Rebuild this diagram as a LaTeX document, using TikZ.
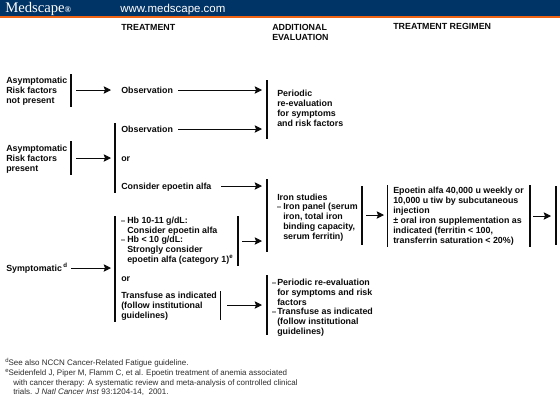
\documentclass[tikz,border=0pt]{standalone}
\usepackage{fontspec}
\setmainfont{Liberation Sans}
\newfontfamily\logofont{Liberation Serif}
\definecolor{navy}{RGB}{0,51,102}
\definecolor{bandorange}{RGB}{240,100,20}
\definecolor{ink}{RGB}{10,10,10}
\definecolor{noteink}{RGB}{45,45,45}
\tikzset{
  lab/.style={anchor=base west,inner sep=0pt,font=\fontsize{6.65pt}{7.5pt}\selectfont\bfseries,text=ink},
  note/.style={anchor=base west,inner sep=0pt,font=\fontsize{6pt}{7pt}\selectfont,text=noteink},
  barline/.style={draw=ink,line width=0.85pt},
  arrowline/.style={draw=ink,line width=0.7pt,-{Stealth[length=5.5pt,width=5.5pt,inset=1pt]}},
  tick/.style={fill=gray!70,inner sep=0pt,minimum width=2.6pt,minimum height=1.2pt}
}
\usetikzlibrary{arrows.meta}
\begin{document}
\begin{tikzpicture}[x=0.75pt,y=-0.75pt]
\useasboundingbox (0,0) rectangle (560,400);
\fill[white] (0,0) rectangle (560,400);
\fill[navy] (0,0) rectangle (560,16);
\fill[bandorange] (0,16) rectangle (560,18);
\node[anchor=base west,inner sep=0pt,text=white,font=\logofont\fontsize{11pt}{11pt}\selectfont] (logo) at (5,12) {Medscape\raisebox{0pt}{\fontsize{6.5pt}{6pt}\selectfont\bfseries®}};
\node[anchor=base west,inner sep=0pt,text=white,font=\fontsize{8.6pt}{9pt}\selectfont] (web) at (120,12) {www.medscape.com};
% headers
\node[lab] (h1) at (121,30) {TREATMENT};
\node[lab] (h2a) at (272,30) {ADDITIONAL};
\node[lab] (h2b) at (272,40) {EVALUATION};
\node[lab] (h3) at (393,29) {TREATMENT REGIMEN};
% left column
\node[lab] (a1) at (6,83) {Asymptomatic};
\node[lab] (a2) at (6,93) {Risk factors};
\node[lab] (a3) at (6,103) {not present};
\node[lab] (b1) at (6,151) {Asymptomatic};
\node[lab] (b2) at (6,161) {Risk factors};
\node[lab] (b3) at (6,171) {present};
\node[lab] (sym) at (6,271) {Symptomatic\,\raisebox{2.5pt}{\fontsize{4.6pt}{5pt}\selectfont d}};
% treatment
\node[lab] (obs1) at (121,93) {Observation};
\node[lab] (obs2) at (121,132) {Observation};
\node[lab] (or1) at (121,161) {or};
\node[lab] (epo) at (121,189) {Consider epoetin alfa};
\node[tick] (t1) at (123,221) {};
\node[lab] (hb1) at (127,223) {Hb 10-11 g/dL:};
\node[lab] (hb2) at (127,233) {Consider epoetin alfa};
\node[tick] (t2) at (123,240) {};
\node[lab] (hb3) at (127,242) {Hb < 10 g/dL:};
\node[lab] (hb4) at (127,252) {Strongly consider};
\node[lab] (hb5) at (127,262) {epoetin alfa (category 1)\raisebox{2.5pt}{\fontsize{4.6pt}{5pt}\selectfont e}};
\node[lab] (or2) at (121,281) {or};
\node[lab] (tr1) at (121,298) {Transfuse as indicated};
\node[lab] (tr2) at (121,308) {(follow institutional};
\node[lab] (tr3) at (121,318) {guidelines)};
% additional evaluation
\node[lab] (p1) at (277,96) {Periodic};
\node[lab] (p2) at (277,106) {re-evaluation};
\node[lab] (p3) at (277,116) {for symptoms};
\node[lab] (p4) at (277,126) {and risk factors};
\node[lab] (i0) at (277,200) {Iron studies};
\node[tick] (t3) at (279,207) {};
\node[lab] (i1) at (283,209) {Iron panel (serum};
\node[lab] (i2) at (283,219) {iron, total iron};
\node[lab] (i3) at (283,229) {binding capacity,};
\node[lab] (i4) at (283,239) {serum ferritin)};
\node[tick] (t4) at (274,283) {};
\node[lab] (q1) at (277,285) {Periodic re-evaluation};
\node[lab] (q2) at (277,295) {for symptoms and risk};
\node[lab] (q3) at (277,305) {factors};
\node[tick] (t5) at (274,312) {};
\node[lab] (q4) at (277,314) {Transfuse as indicated};
\node[lab] (q5) at (277,324) {(follow institutional};
\node[lab] (q6) at (277,334) {guidelines)};
% regimen
\node[lab] (r1) at (393,193) {Epoetin alfa 40,000 u weekly or};
\node[lab] (r2) at (393,203) {10,000 u tiw by subcutaneous};
\node[lab] (r3) at (393,213) {injection};
\node[lab] (r4) at (393,223) {± oral iron supplementation as};
\node[lab] (r5) at (393,233) {indicated (ferritin < 100,};
\node[lab] (r6) at (393,243) {transferrin saturation < 20\%)};
% footnotes
\node[note] (n1) at (5,365) {\raisebox{2.2pt}{\fontsize{4.4pt}{5pt}\selectfont d}See also NCCN Cancer-Related Fatigue guideline.};
\node[note] (n2) at (5,375) {\raisebox{2.2pt}{\fontsize{4.4pt}{5pt}\selectfont e}Seidenfeld J, Piper M, Flamm C, et al. Epoetin treatment of anemia associated};
\node[note] (n3) at (13,385) {with cancer therapy: A systematic review and meta-analysis of controlled clinical};
\node[note] (n4) at (13,394) {trials. \textit{J Natl Cancer Inst} 93:1204-14,\ \ 2001.};
% bars
\foreach \n/\x/\ya/\yb in {ba/71/74/107,bb/71/141/175,bc/115/123/193,bd/115/216/322,be/238/216/266,bf/220.5/291/320,bg/267/80/139,bh/267/179/252,bi/267/275/335,bj/362/186/245,bk/387.5/185/247,bl/530/185/247,bm/556/186/245}{
  \coordinate (\n t) at (\x,\ya);
  \coordinate (\n b) at (\x,\yb);
  \draw[barline] (\n t) -- (\n b);
}
% connector ends
\foreach \n/\xa/\xb/\y in {c1/76/111/90,c2/178/262/90,c3/178/262/129,c4/76/111/158,c5/221/262/186,c6/71/111/268,c7/242/262/241,c8/227/262/305,c9/366/384/215,c10/533/551/216}{
  \coordinate (\n s) at (\xa,\y);
  \coordinate (\n e) at (\xb,\y);
  \draw[arrowline] (\n s) -- (\n e);
}
\end{tikzpicture}
\end{document}
